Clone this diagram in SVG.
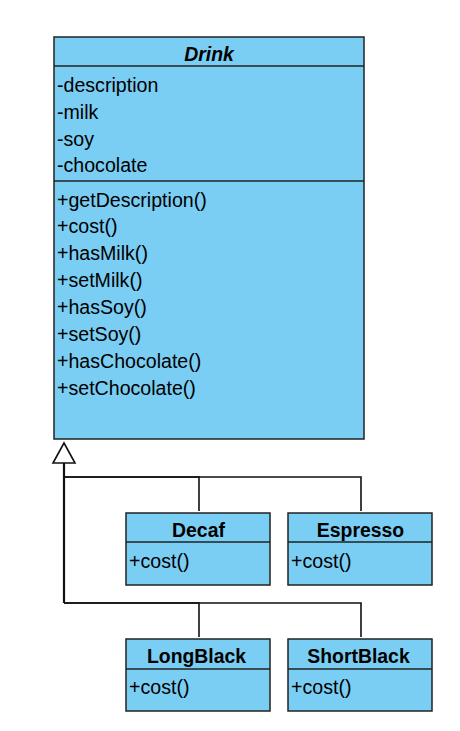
<svg xmlns="http://www.w3.org/2000/svg" width="460" height="731" viewBox="0 0 460 731">
<style>
.box{fill:#7ACEF4;stroke:#222;stroke-width:1.5}
.sep{stroke:#222;stroke-width:1.5}
.t{font-family:"Liberation Sans",Arial,sans-serif;font-size:19.6px;fill:#000}
.title{font-family:"Liberation Sans",Arial,sans-serif;font-size:19.4px;font-weight:bold;fill:#000;text-anchor:middle}
.conn{fill:none;stroke:#111;stroke-width:1.6}
.trunk{fill:none;stroke:#111;stroke-width:2.2}
</style>
<rect width="460" height="731" fill="#fff"/>
<g id="connectors">
<path class="conn" d="M199,511 V477 H64"/>
<path class="conn" d="M361,511 V477 H64"/>
<path class="conn" d="M199,637 V603 H64"/>
<path class="conn" d="M361,637 V603 H64"/>
<path class="trunk" d="M64,603 V463"/>
<polygon points="64,443 53,463 75,463" fill="#fff" stroke="#111" stroke-width="1.6"/>
</g>
<g id="Drink">
<rect class="box" x="54" y="37" width="310" height="402"/>
<line class="sep" x1="54" y1="66" x2="364" y2="66"/>
<line class="sep" x1="54" y1="181" x2="364" y2="181"/>
<text class="title" x="209" y="60.5" font-style="italic">Drink</text>
<text class="t" x="57" y="92">-description</text>
<text class="t" x="57" y="119">-milk</text>
<text class="t" x="57" y="145.5">-soy</text>
<text class="t" x="57" y="172">-chocolate</text>
<text class="t" x="57" y="206.5">+getDescription()</text>
<text class="t" x="57" y="233">+cost()</text>
<text class="t" x="57" y="260">+hasMilk()</text>
<text class="t" x="57" y="287">+setMilk()</text>
<text class="t" x="57" y="314">+hasSoy()</text>
<text class="t" x="57" y="341">+setSoy()</text>
<text class="t" x="57" y="368">+hasChocolate()</text>
<text class="t" x="57" y="394.5">+setChocolate()</text>
</g>
<g id="Decaf">
<rect class="box" x="126" y="513" width="144" height="72"/>
<line class="sep" x1="126" y1="542" x2="270" y2="542"/>
<text class="title" x="198.5" y="536.5">Decaf</text>
<text class="t" x="129" y="567.5">+cost()</text>
</g>
<g id="Espresso">
<rect class="box" x="288" y="513" width="144" height="72"/>
<line class="sep" x1="288" y1="542" x2="432" y2="542"/>
<text class="title" x="360.5" y="536.5">Espresso</text>
<text class="t" x="291" y="567.5">+cost()</text>
</g>
<g id="LongBlack">
<rect class="box" x="126" y="639" width="144" height="72"/>
<line class="sep" x1="126" y1="669" x2="270" y2="669"/>
<text class="title" x="196.5" y="662.5">LongBlack</text>
<text class="t" x="129" y="693.5">+cost()</text>
</g>
<g id="ShortBlack">
<rect class="box" x="288" y="639" width="144" height="72"/>
<line class="sep" x1="288" y1="669" x2="432" y2="669"/>
<text class="title" x="358.5" y="662.5">ShortBlack</text>
<text class="t" x="291" y="693.5">+cost()</text>
</g>
</svg>
